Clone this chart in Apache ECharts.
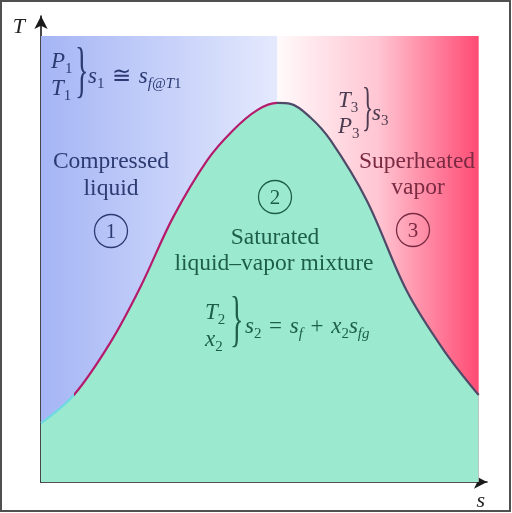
<!DOCTYPE html>
<html>
<head>
<meta charset="utf-8">
<script src="https://cdn.jsdelivr.net/npm/echarts@6/dist/echarts.min.js"></script>
<style>html,body{margin:0;padding:0;background:#fff}#c{width:512px;height:513px}</style>
</head>
<body>
<div id="c"></div>
<script>
// Saturation dome (entropy s, temperature T) in arbitrary units
const domeS = [0, 0.75, 1.58, 2.26, 3.02, 3.80, 4.39, 4.94, 5.40, 5.70, 6.15, 6.61, 7.44, 8.35, 9.20, 10.0];
const domeT = [1.32, 1.95, 3.12, 4.35, 5.94, 7.22, 7.89, 8.34, 8.50, 8.48, 8.18, 7.67, 6.32, 4.30, 2.96, 1.95];
// Region extents
const criticalS = 5.40;   // split between compressed-liquid and superheated backgrounds
const liquidLineStart = 0.75;
const regionMaxS = 10.0;
const regionMaxT = 10.0;

const SERIF = '"Liberation Serif", "DejaVu Serif", serif';
const chart = echarts.init(document.getElementById('c'));

const domeData = domeS.map((s, i) => [s, domeT[i]]);

function mkRich(color) {
  return {
    m: { fontFamily: SERIF, fontStyle: 'italic', fontSize: 23, color: color, lineHeight: 30, verticalAlign: 'middle' },
    r: { fontFamily: SERIF, fontStyle: 'normal', fontSize: 23, color: color, lineHeight: 30, verticalAlign: 'middle' },
    sub: { fontFamily: SERIF, fontStyle: 'normal', fontSize: 15, color: color, lineHeight: 15, verticalAlign: 'bottom' },
    subi: { fontFamily: SERIF, fontStyle: 'italic', fontSize: 15, color: color, lineHeight: 15, verticalAlign: 'bottom' }
  };
}
function mathText(x, y, text, color) {
  return { type: 'text', x: x, y: y, z: 50,
    style: { text: text, fill: color, font: 'italic 23px ' + SERIF, rich: mkRich(color) } };
}
function plainText(x, y, text, color) {
  return { type: 'text', x: x, y: y, z: 50,
    style: { text: text, fill: color, font: '23.5px ' + SERIF, align: 'center', verticalAlign: 'middle' } };
}
function circled(cx, cy, d, color) {
  return [
    { type: 'circle', z: 50, shape: { cx: cx, cy: cy, r: 16.5 }, style: { fill: 'none', stroke: color, lineWidth: 1.3 } },
    { type: 'text', x: cx, y: cy + 1, z: 50, style: { text: d, fill: color, font: '21px ' + SERIF, align: 'center', verticalAlign: 'middle' } }
  ];
}
function brace(x, y, h, color) {
  return { type: 'text', x: x, y: y, z: 50, scaleX: 0.45,
    style: { text: '}', fill: color, font: h + 'px ' + SERIF, align: 'left', verticalAlign: 'middle' } };
}

const blue = '#2c3a72', green = '#1d5e4a', purple = '#4b3c50', maroon = '#7a2a42';
const SP = '\u2004';

const graphics = [
  { type: 'rect', z: 100, shape: { x: 1, y: 1, width: 509, height: 510 }, style: { fill: 'none', stroke: '#505050', lineWidth: 2 } },
  // region 1
  plainText(111, 162, 'Compressed', blue),
  plainText(111, 189, 'liquid', blue),
  ...circled(111, 231, '1', blue),
  // region 2
  plainText(275, 238, 'Saturated', green),
  plainText(274, 264, 'liquid\u2013vapor mixture', green),
  ...circled(275, 197, '2', green),
  // region 3
  plainText(417, 162, 'Superheated', maroon),
  plainText(418, 188, 'vapor', maroon),
  ...circled(413, 230, '3', maroon),
  // state 1 annotation
  mathText(51, 47, '{m|P}{sub|1}', blue),
  mathText(51, 74, '{m|T}{sub|1}', blue),
  brace(75, 74, 62, blue),
  mathText(88, 62, '{m|s}{sub|1}{r|' + SP + '\u2245' + SP + '}{m|s}{subi|f@T}{sub|1}', blue),
  // state 3 annotation
  mathText(338, 86, '{m|T}{sub|3}', purple),
  mathText(338, 112, '{m|P}{sub|3}', purple),
  brace(362, 110, 52, purple),
  mathText(372, 99, '{m|s}{sub|3}', purple),
  // state 2 annotation
  mathText(205, 298, '{m|T}{sub|2}', green),
  mathText(205, 325, '{m|x}{sub|2}', green),
  brace(230, 323, 62, green),
  mathText(245, 312, '{m|s}{sub|2}{r|' + SP + '=' + SP + '}{m|s}{subi|f}{r|' + SP + '+' + SP + '}{m|x}{sub|2}{m|s}{subi|fg}', green)
];

const option = {
  animation: false,
  backgroundColor: '#ffffff',
  grid: { left: 41, right: 25, top: 16, bottom: 31, containLabel: false },
  xAxis: {
    type: 'value', min: 0, max: 10.19,
    name: 's', nameLocation: 'end', nameGap: 0,
    nameTextStyle: { fontFamily: SERIF, fontStyle: 'italic', fontSize: 22, color: '#222', align: 'right', verticalAlign: 'top', padding: [8, 2, 0, 0] },
    axisLine: { show: true, onZero: false, symbol: ['none', 'arrow'], symbolSize: [10, 13], lineStyle: { color: '#1a1a1a', width: 1.6 } },
    axisTick: { show: false }, axisLabel: { show: false }, splitLine: { show: false }
  },
  yAxis: {
    type: 'value', min: 0, max: 10.45,
    name: 'T', nameLocation: 'end', nameGap: 0,
    nameTextStyle: { fontFamily: SERIF, fontStyle: 'italic', fontSize: 22, color: '#222', align: 'right', verticalAlign: 'top', padding: [0, 16, 0, 0] },
    axisLine: { show: true, onZero: false, symbol: ['none', 'arrow'], symbolSize: [10, 13], lineStyle: { color: '#1a1a1a', width: 1.6 } },
    axisTick: { show: false }, axisLabel: { show: false }, splitLine: { show: false }
  },
  visualMap: {
    show: false, type: 'piecewise', seriesIndex: 0, dimension: 0,
    pieces: [
      { lt: liquidLineStart, color: '#6fd8e2' },
      { gte: liquidLineStart, lt: criticalS, color: '#b51a6c' },
      { gte: criticalS, color: '#4f4a68' }
    ]
  },
  series: [
    {
      type: 'line', data: domeData, smooth: 0.35, symbol: 'none', z: 3,
      lineStyle: { width: 2.2 },
      areaStyle: { color: '#9beacf', opacity: 1, origin: 'start' },
      markArea: {
        silent: true,
        data: [
          [{ coord: [0, 0], itemStyle: { color: { type: 'linear', x: 0, y: 0, x2: 1, y2: 0, colorStops: [{ offset: 0, color: '#a5b5f5' }, { offset: 1, color: '#e4e9fd' }] } } },
           { coord: [criticalS, regionMaxT] }],
          [{ coord: [criticalS, 0], itemStyle: { color: { type: 'linear', x: 0, y: 0, x2: 1, y2: 0, colorStops: [{ offset: 0, color: '#fffafb' }, { offset: 0.5, color: '#ffc5d2' }, { offset: 1, color: '#ff4b74' }] } } },
           { coord: [regionMaxS, regionMaxT] }]
        ]
      }
    }
  ],
  graphic: graphics
};
chart.setOption(option);
</script>
</body>
</html>
